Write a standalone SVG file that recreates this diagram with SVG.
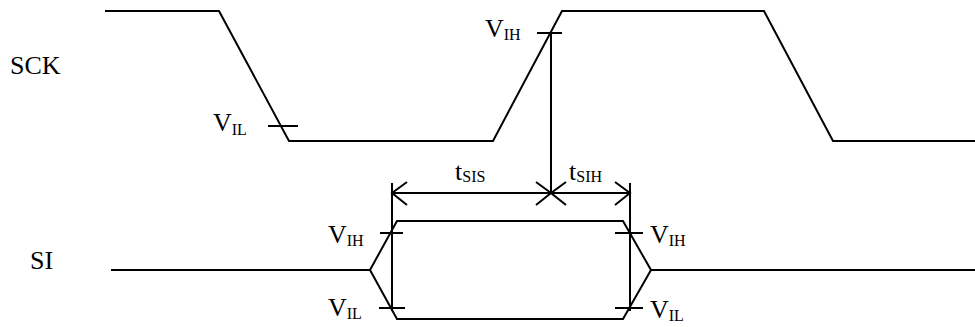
<svg xmlns="http://www.w3.org/2000/svg" width="975" height="327" viewBox="0 0 975 327">
<style>
.w{fill:none;stroke:#000;stroke-width:2;stroke-linejoin:miter}
.t{font-family:"Liberation Serif","Times New Roman",serif;font-size:26px;fill:#000}
.s{font-size:16px}
</style>
<rect width="975" height="327" fill="#fff"/>
<g id="labels">
<text class="t" x="10" y="74">SCK</text>
<text class="t" x="30" y="269">SI</text>
</g>
<g id="sck">
<polyline class="w" points="105,11 219,11 289,141 493,141 562,11 764,11 833,141 975,141"/>
</g>
<g id="si">
<polyline class="w" points="111,270 370,270 397,221 623,221 651,270 975,270"/>
<polyline class="w" points="370,270 397,319 623,319 651,270"/>
</g>
<g id="ticks">
<line class="w" x1="268" y1="126" x2="298" y2="126"/>
<line class="w" x1="537" y1="33" x2="562" y2="33"/>
<line class="w" x1="380" y1="233" x2="403" y2="233"/>
<line class="w" x1="379" y1="308" x2="405" y2="308"/>
<line class="w" x1="615" y1="233" x2="643" y2="233"/>
<line class="w" x1="615" y1="308" x2="643" y2="308"/>
</g>
<g id="connectors">
<line class="w" x1="551" y1="33" x2="551" y2="193"/>
<line class="w" x1="392" y1="183" x2="392" y2="311"/>
<line class="w" x1="630" y1="183" x2="630" y2="311"/>
<line class="w" x1="392" y1="193" x2="630" y2="193"/>
<polyline class="w" points="407,182 392,193 407,205"/>
<polyline class="w" points="536,182 551,193 536,205"/>
<polyline class="w" points="566,182 551,193 566,205"/>
<polyline class="w" points="615,182 630,193 615,205"/>
</g>
<g id="text-labels">
<text class="t" x="213" y="131">V<tspan class="s" dy="4">IL</tspan></text>
<text class="t" x="485" y="37">V<tspan class="s" dy="3">IH</tspan></text>
<text class="t" x="455" y="180">t<tspan class="s" dy="2">SIS</tspan></text>
<text class="t" x="569" y="180">t<tspan class="s" dy="2">SIH</tspan></text>
<text class="t" x="328" y="243">V<tspan class="s" dy="3">IH</tspan></text>
<text class="t" x="328" y="316">V<tspan class="s" dy="3">IL</tspan></text>
<text class="t" x="650" y="243">V<tspan class="s" dy="3">IH</tspan></text>
<text class="t" x="650" y="318">V<tspan class="s" dy="3">IL</tspan></text>
</g>
</svg>
